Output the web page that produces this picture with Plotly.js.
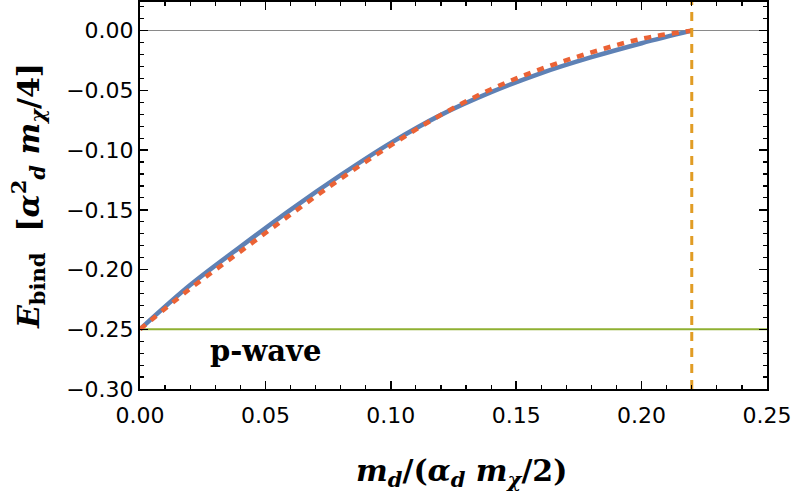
<!DOCTYPE html>
<html>
<head>
<meta charset="utf-8">
<script src="https://cdn.plot.ly/plotly-3.0.1.min.js"></script>
<style>
  body { margin: 0; background: #fff; }
  #chart { width: 797px; height: 503px; }
</style>
</head>
<body>
<div id="chart"></div>
<script>
// screening mass, in units of alpha_d m_chi / 2
const mdRatio = [0, 0.02, 0.04, 0.06, 0.08, 0.10, 0.12, 0.14, 0.16, 0.18, 0.20, 0.22];
// numerical binding energy (solid blue)
const eNumeric = [-0.25, -0.213, -0.181, -0.150, -0.121, -0.094, -0.0705, -0.0515, -0.0355, -0.0222, -0.0105, 0];
// approximation (dashed red)
const eApprox = [-0.25, -0.216, -0.185, -0.154, -0.124, -0.096, -0.0705, -0.049, -0.032, -0.0182, -0.0068, 0];

// Coulomb p-wave level
const coulombX = [0, 0.25];
const coulombY = [-0.25, -0.25];

// critical screening mass
const critX = [0.22, 0.22];
const critY = [-0.30, 0.024];

const xTicks = [0, 0.05, 0.10, 0.15, 0.20, 0.25];
const yTicks = [0, -0.05, -0.10, -0.15, -0.20, -0.25, -0.30];

const traces = [
    {
        x: coulombX, y: coulombY, mode: 'lines', type: 'scatter',
        line: { color: '#8FB032', width: 2 }, hoverinfo: 'skip'
    },
    {
        x: mdRatio, y: eNumeric, mode: 'lines', type: 'scatter',
        line: { color: '#5E81B5', width: 4.5, shape: 'spline', smoothing: 1 }
    },
    {
        x: mdRatio, y: eApprox, mode: 'lines', type: 'scatter',
        line: { color: '#EB6235', width: 4.5, dash: '7px,7px', shape: 'spline', smoothing: 1 }
    },
    {
        x: critX, y: critY, mode: 'lines', type: 'scatter',
        line: { color: '#E19C24', width: 3, dash: '9px,7px' }, hoverinfo: 'skip'
    }
];

const tickFont = { family: 'DejaVu Sans, sans-serif', size: 22, color: '#000' };
const titleFont = { family: 'DejaVu Serif, serif', size: 30, color: '#000' };

const layout = {
    width: 797,
    height: 503,
    showlegend: false,
    plot_bgcolor: '#fff',
    paper_bgcolor: '#fff',
    margin: { l: 140, r: 30, t: 2, b: 114 },
    xaxis: {
        range: [0, 0.25],
        tickvals: xTicks,
        tickformat: '.2f',
        ticks: 'inside',
        ticklen: 8,
        tickwidth: 1.5,
        tickcolor: '#000',
        ticklabelstandoff: 6,
        minor: { dtick: 0.01, tick0: 0, ticks: 'inside', ticklen: 4, tickwidth: 1.2, tickcolor: '#000' },
        showline: true,
        linecolor: '#000',
        linewidth: 2,
        mirror: 'allticks',
        showgrid: false,
        zeroline: false,
        tickfont: tickFont
    },
    yaxis: {
        range: [-0.30, 0.024],
        tickvals: yTicks,
        tickformat: '.2f',
        ticks: 'inside',
        ticklen: 8,
        tickwidth: 1.5,
        tickcolor: '#000',
        minor: { dtick: 0.01, tick0: 0, ticks: 'inside', ticklen: 4, tickwidth: 1.2, tickcolor: '#000' },
        showline: true,
        linecolor: '#000',
        linewidth: 2,
        mirror: 'allticks',
        showgrid: false,
        zeroline: true,
        zerolinecolor: '#8a8a8a',
        zerolinewidth: 1.5,
        tickfont: tickFont,
        title: {
            text: '<b><i>E</i><sub>bind</sub>  [<i>α</i><sup>2</sup><sub><i>d</i></sub> <i>m</i><sub><i>χ</i></sub>/4]</b>',
            font: titleFont,
            standoff: 18
        }
    },
    annotations: [
        {
            // x axis title, placed by hand to sit where the original one is
            x: 0.512, y: -0.215, xref: 'paper', yref: 'paper',
            xanchor: 'center', yanchor: 'middle',
            text: '<b><i>m</i><sub><i>d</i></sub>/(<i>α</i><sub><i>d</i></sub> <i>m</i><sub><i>χ</i></sub>/2)</b>',
            showarrow: false,
            font: titleFont
        },
        {
            x: 0.05, y: -0.268, xref: 'x', yref: 'y',
            text: '<b>p-wave</b>', showarrow: false,
            font: { family: 'DejaVu Serif, serif', size: 29, color: '#000' }
        }
    ]
};

Plotly.newPlot('chart', traces, layout, { displayModeBar: false, staticPlot: true });
</script>
</body>
</html>
